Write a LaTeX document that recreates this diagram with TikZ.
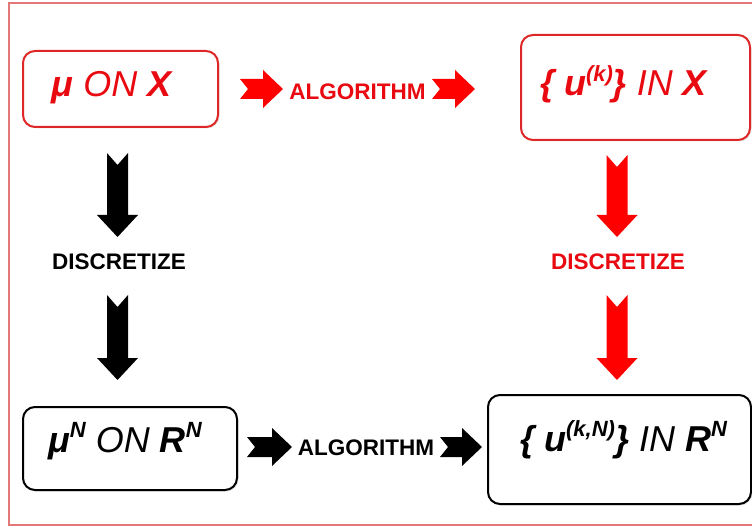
\documentclass[tikz,border=0pt]{standalone}
\usepackage{fontspec}
\setmainfont{Liberation Sans}
\usetikzlibrary{shadows}
\definecolor{hot}{RGB}{255,0,0}
\definecolor{hottext}{RGB}{232,10,16}
\definecolor{boxred}{RGB}{222,40,40}
\definecolor{framepink}{RGB}{226,120,120}
% raised bold superscript
\newcommand{\upidx}[1]{\raisebox{0.4em}{\fontsize{22}{22}\selectfont\bfseries\itshape #1}}
\tikzset{
  panel/.style={draw, line width=2pt, rounded corners=12pt, minimum width=#1, inner sep=0pt,
    fill=white, drop shadow={opacity=0.18, shadow xshift=1.5pt, shadow yshift=-1.5pt}},
  boxtext/.style={anchor=base, font=\fontsize{36}{36}\selectfont\itshape, inner sep=0pt},
  tag/.style={font=\fontsize{22.5}{22.5}\selectfont\bfseries, inner sep=0pt},
  % notched block arrow along +x: length, half body, half head, head length, notch depth
  pics/blockarrow/.style n args={5}{code={
    \fill[pic actions] (0,#2) -- ({#1-#4},#2) -- ({#1-#4},#3) -- (#1,0) -- ({#1-#4},-#3)
      -- ({#1-#4},-#2) -- (0,-#2) -- (#5,0) -- cycle;
  }}
}
\begin{document}
\begin{tikzpicture}[x=1pt,y=1pt]
\useasboundingbox (0,0) rectangle (752,-529);
\fill[white] (0,0) rectangle (752,-529);

% outer frame (runs past the right edge)
\draw[framepink, line width=1.4pt] (780,-3) -- (9,-3) -- (9,-525) -- (780,-525);

% boxes
\node[panel=195pt, minimum height=76pt, draw=boxred] (muX) at (120.5,-89) {};
\node[panel=229pt, minimum height=105pt, draw=boxred] (uX) at (635.5,-87.5) {};
\node[panel=214pt, minimum height=83pt, draw=black] (muRN) at (130,-448.5) {};
\node[panel=263pt, minimum height=109pt, draw=black] (uRN) at (619.5,-449.5) {};

% box texts
\node[boxtext, text=hottext] (tmuX) at (111.5,-97) {\textbf{μ} ON \textbf{X}};
\node[boxtext, text=hottext] (tuX) at (623.5,-96) {\textbf{\{ u\upidx{(k)}\}} IN \textbf{X}};
\node[boxtext, text=black] (tmuRN) at (125,-452) {\textbf{μ}\upidx{N} ON \textbf{R}\upidx{N}};
\node[boxtext, text=black] (tuRN) at (623.5,-451) {\textbf{\{ u\upidx{(k,N)}\}} IN \textbf{R}\upidx{N}};

% horizontal arrows with labels
\pic[fill=hot] at (240,-89) {blockarrow={43}{10}{19}{20}{8}};
\node[tag, text=hottext] (algTop) at (357.5,-92) {ALGORITHM};
\pic[fill=hot] at (432,-89) {blockarrow={43}{10}{19}{20}{8}};

\pic[fill=black] at (247,-447) {blockarrow={45}{10}{19}{20}{8}};
\node[tag, text=black] (algBot) at (366,-448) {ALGORITHM};
\pic[fill=black] at (440,-447) {blockarrow={42}{10}{19}{20}{8}};

% vertical arrows with labels
\pic[fill=black, rotate=-90] at (117.5,-153) {blockarrow={84}{10.5}{20.5}{22}{12}};
\node[tag, text=black] (discL) at (119,-262) {DISCRETIZE};
\pic[fill=black, rotate=-90] at (117.5,-295) {blockarrow={85}{10.5}{20.5}{22}{12}};

\pic[fill=hot, rotate=-90] at (617,-155) {blockarrow={82}{10.5}{20.5}{22}{12}};
\node[tag, text=hottext] (discR) at (618,-262) {DISCRETIZE};
\pic[fill=hot, rotate=-90] at (617,-295) {blockarrow={85}{10.5}{20.5}{22}{12}};
\end{tikzpicture}
\end{document}
